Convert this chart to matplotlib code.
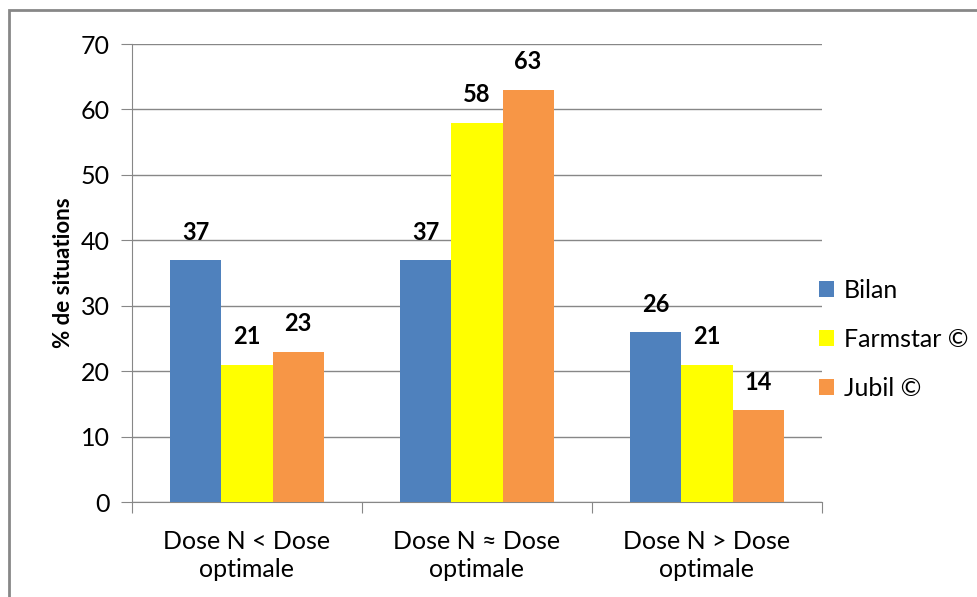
import matplotlib.pyplot as plt
import numpy as np
from matplotlib.patches import Rectangle

categories = ["Dose N < Dose\noptimale", "Dose N \u2248 Dose\noptimale", "Dose N > Dose\noptimale"]
series_names = ["Bilan", "Farmstar \u00a9", "Jubil \u00a9"]
bilan = [37, 37, 26]
farmstar = [21, 58, 21]
jubil = [23, 63, 14]
colors = ["#4F81BD", "#FFFF00", "#F79646"]

plt.rcParams['font.family'] = ['Lato', 'DejaVu Sans']

fig = plt.figure(figsize=(9.78, 5.97), dpi=100)
ax = fig.add_axes([132/978, 1-502/597, 690/978, 458/597])

# grey frame around the chart area
fig.patches.append(Rectangle((9/978, -0.1), 1.1, 1 - 10/597 + 0.1, transform=fig.transFigure,
                             fill=False, edgecolor="#878787", linewidth=2))

x = np.arange(len(categories))
w = 0.222
for i, (vals, name) in enumerate(zip([bilan, farmstar, jubil], series_names)):
    bars = ax.bar(x + (i - 1) * w, vals, w, color=colors[i], label=name, zorder=3)
    for b, v in zip(bars, vals):
        ax.text(b.get_x() + b.get_width() / 2, v + 2.5, str(v), ha="center", va="bottom",
                fontsize=17, fontweight="bold")

ax.set_xlim(-0.5, 2.5)
ax.set_ylim(0, 70)
ax.set_yticks(range(0, 71, 10))
ax.yaxis.grid(True, color="#878787", linewidth=1, zorder=0)
ax.set_xticks([-0.5, 0.5, 1.5, 2.5])
ax.set_xticklabels([])
ax.set_xticks(x, minor=True)
ax.set_xticklabels(categories, minor=True, fontsize=18, linespacing=1.25)
ax.tick_params(axis="x", which="minor", length=0, pad=20)
ax.tick_params(axis="x", which="major", length=8, color="#878787")
ax.tick_params(axis="y", length=8, color="#878787", labelsize=18, pad=8)
for s in ["top", "right"]:
    ax.spines[s].set_visible(False)
for s in ["left", "bottom"]:
    ax.spines[s].set_color("#878787")
ax.set_ylabel("% de situations", fontsize=16, fontweight="bold", labelpad=5)

ax.legend(loc="center left", bbox_to_anchor=(0.995, 0.355), frameon=False, fontsize=18,
          handlelength=0.6, handleheight=0.6, handletextpad=0.4, labelspacing=1.05,
          borderpad=0, borderaxespad=0)

fig.savefig("out.png", dpi=100)
